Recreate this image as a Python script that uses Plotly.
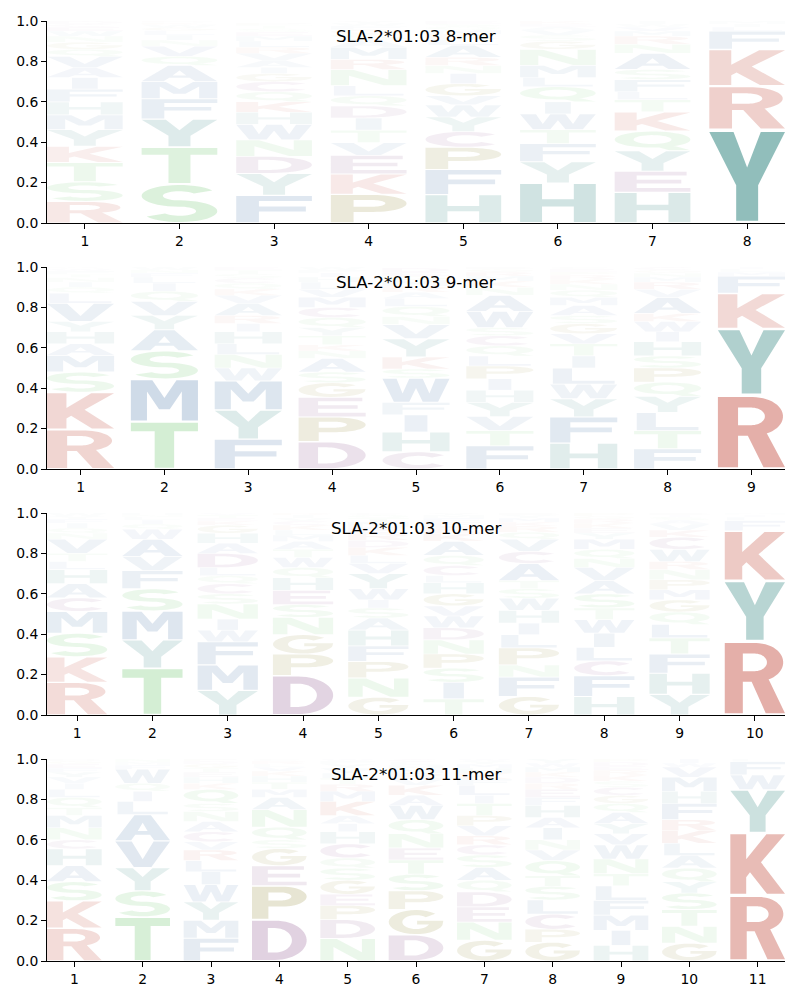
import numpy as np
import plotly.graph_objects as go
from plotly.subplots import make_subplots

# ---------------- data (letters listed bottom-up, heights = probability) -------------
titles = ["SLA-2*01:03 8-mer", "SLA-2*01:03 9-mer", "SLA-2*01:03 10-mer", "SLA-2*01:03 11-mer"]

mer8_letters = ["RSTKYMHFIAVQGNWECD", "STYFMAQVNILGWKR", "FYDNWHKQCGIAVRLMESTP",
                "PKEVTIDQLNRMASGFWY", "HFPCYWVGINRALKMQSE", "HYFTWIQLMNGSVAEK",
                "HEYQKTLFSANRMVWI", "YRKFLIM"]
mer8_heights = [
    [.107, .097, .096, .08, .082, .073, .065, .063, .057, .05, .055, .035, .035, .03, .025, .02, .015, .015],
    [.193, .183, .139, .1, .085, .08, .045, .05, .03, .025, .022, .016, .014, .01, .008],
    [.137, .108, .085, .082, .076, .06, .052, .05, .05, .04, .03, .035, .035, .03, .03, .025, .02, .017, .016, .012],
    [.142, .101, .092, .063, .062, .06, .06, .05, .05, .08, .05, .06, .035, .03, .023, .018, .014, .01],
    [.141, .124, .11, .078, .072, .06, .045, .06, .05, .04, .04, .06, .03, .025, .02, .017, .014, .014],
    [.198, .105, .09, .069, .078, .06, .075, .045, .06, .08, .04, .03, .025, .017, .014, .014],
    [.152, .104, .102, .097, .095, .06, .04, .06, .05, .08, .045, .04, .025, .02, .015, .015],
    [.462, .216, .182, .09, .02, .015, .015],
]

mer9_letters = ["RKSMAHYVLQINTFWG", "TMSAYVQILFNW", "FYMWNLHIRAVKQCSTE",
                "DPEGSANKTYQCMVLHIFW", "CHIFWSKYVNQLARMGED", "FTVYHIPLQCSWANKMRGE",
                "HFYWLITVGSAMQNKRPEC", "FTLYQPSHIWKAVRMNGC", "RYKFMLI"]
mer9_heights = [
    [.196, .184, .1, .083, .057, .06, .05, .09, .05, .03, .025, .022, .018, .015, .012, .008],
    [.235, .21, .14, .105, .07, .07, .05, .04, .03, .02, .015, .015],
    [.148, .144, .145, .063, .067, .053, .06, .04, .04, .06, .04, .03, .03, .025, .02, .02, .015],
    [.135, .123, .097, .072, .053, .067, .038, .03, .045, .04, .05, .05, .05, .04, .035, .025, .02, .015, .015],
    [.085, .098, .085, .062, .12, .045, .06, .09, .07, .04, .05, .04, .03, .03, .03, .02, .02, .02],
    [.115, .075, .07, .07, .06, .057, .063, .05, .05, .05, .04, .08, .08, .04, .03, .025, .02, .015, .01],
    [.128, .13, .09, .072, .08, .06, .06, .05, .05, .04, .05, .04, .035, .03, .025, .02, .015, .015, .01],
    [.1, .09, .09, .08, .07, .07, .06, .07, .05, .05, .04, .08, .04, .035, .025, .02, .015, .015],
    [.365, .33, .175, .085, .02, .015, .01],
]

mer10_letters = ["RKSMCAHLTVNQIFYW", "TYMSFVAWQILNH", "YMFWINSCQLDAHGKETV",
                 "DPGNSEHQWTAMLKCVIR", "GNPFHASIWYVLKDREMTQC", "TISPNDWVGHLCQAKREFMY",
                 "GFNPLIHWSTACVQRKMYE", "HFCLIWTSAVNQMYEKRGP", "YHFTLQGMPNRWCKVASIE",
                 "RYKFLIM"]
mer10_heights = [
    [.162, .126, .117, .108, .067, .07, .07, .04, .04, .07, .03, .025, .025, .02, .015, .015],
    [.232, .14, .143, .11, .09, .07, .085, .05, .025, .02, .015, .01, .01],
    [.122, .126, .115, .057, .055, .075, .05, .05, .04, .04, .07, .05, .05, .04, .02, .015, .015, .01],
    [.195, .107, .096, .085, .064, .07, .063, .05, .05, .04, .04, .03, .025, .025, .02, .015, .015, .01],
    [.088, .095, .082, .077, .078, .06, .05, .04, .055, .075, .05, .04, .04, .035, .035, .03, .025, .02, .015, .01],
    [.08, .082, .07, .07, .07, .06, .058, .05, .06, .055, .035, .05, .05, .07, .04, .03, .025, .02, .015, .01],
    [.092, .096, .06, .085, .065, .057, .063, .06, .047, .04, .085, .06, .06, .035, .03, .02, .02, .015, .01],
    [.092, .103, .073, .067, .07, .067, .058, .07, .065, .065, .045, .045, .05, .03, .025, .025, .02, .015, .015],
    [.102, .105, .095, .08, .066, .062, .06, .05, .05, .05, .04, .06, .06, .035, .03, .02, .015, .01, .01],
    [.365, .3, .247, .05, .018, .012, .008],
]

mer11_letters = ["RKSAHCNMTQLIVYFEGD", "TSYVALIQWFMN", "FMYWILRVCANSQKHETGDP",
                 "DPEGSQNAMTHKVLRC", "NDPEGSQCHIAKMRTLVYFW", "DGPSTENQWAKVRMHLC",
                 "GNEDQASCRVPTILFKHMYW", "GPCLSTQVNIAHFERDKMWY", "HIMFLTNWVYAQGCSKREDP",
                 "GNTSYQALKRFHMVWI", "RKYWFL"]
mer11_heights = [
    [.162, .136, .095, .079, .083, .045, .06, .06, .04, .05, .04, .03, .03, .025, .02, .02, .015, .01],
    [.218, .13, .114, .133, .13, .065, .05, .04, .07, .02, .015, .015],
    [.113, .089, .091, .085, .064, .055, .053, .04, .05, .05, .05, .04, .07, .03, .03, .025, .02, .02, .015, .01],
    [.205, .167, .1, .085, .043, .063, .087, .06, .04, .035, .03, .025, .02, .015, .015, .01],
    [.112, .093, .07, .055, .07, .06, .05, .07, .06, .04, .04, .07, .05, .035, .03, .025, .025, .02, .015, .01],
    [.13, .125, .093, .082, .07, .06, .07, .07, .07, .05, .05, .03, .03, .02, .02, .015, .015],
    [.103, .09, .075, .074, .058, .063, .062, .05, .045, .05, .05, .06, .04, .05, .03, .03, .025, .02, .015, .01],
    [.093, .064, .075, .07, .068, .052, .075, .053, .05, .06, .05, .06, .04, .04, .03, .03, .025, .025, .02, .02],
    [.077, .075, .075, .073, .072, .06, .073, .07, .055, .05, .055, .045, .04, .04, .03, .03, .025, .02, .02, .015],
    [.088, .084, .083, .082, .055, .068, .062, .061, .062, .055, .08, .06, .07, .05, .02, .02],
    [.325, .31, .213, .074, .065, .013],
]

panels = [(mer8_letters, mer8_heights), (mer9_letters, mer9_heights),
          (mer10_letters, mer10_heights), (mer11_letters, mer11_heights)]

# ---------------- styling ----------------
group_rgb = {
    "red": (187, 58, 42), "teal": (39, 127, 121), "green": (88, 190, 88),
    "blue": (46, 98, 155), "purple": (122, 55, 122), "olive": (127, 116, 16),
}
aa_group = {}
for a in "RK": aa_group[a] = "red"
for a in "YH": aa_group[a] = "teal"
for a in "STNQ": aa_group[a] = "green"
for a in "AVLIMFW": aa_group[a] = "blue"
for a in "DEC": aa_group[a] = "purple"
for a in "PG": aa_group[a] = "olive"


def letter_color(a, h):
    r, g, b = group_rgb[aa_group[a]]
    alpha = min(0.6, 1.1 * h)
    return f"rgba({r},{g},{b},{alpha:.3f})"


# ---------------- glyph outlines in a unit box ----------------
def arc(cx, cy, rx, ry, a0, a1, n=28):
    t = np.radians(np.linspace(a0, a1, n))
    return list(zip(cx + rx * np.cos(t), cy + ry * np.sin(t)))


def glyph(a):
    if a == "A":
        return [([(0, 0), (0.35, 1), (0.65, 1), (1, 0), (0.71, 0), (0.635, 0.22), (0.365, 0.22), (0.29, 0)], False),
                ([(0.41, 0.37), (0.5, 0.7), (0.59, 0.37)], True)]
    if a == "C":
        return [(arc(0.52, 0.5, 0.52, 0.5, 40, 320) + arc(0.54, 0.5, 0.26, 0.28, 320, 40), False)]
    if a == "D":
        return [([(0, 0), (0, 1), (0.42, 1)] + arc(0.42, 0.5, 0.58, 0.5, 90, -90), False),
                ([(0.29, 0.19), (0.29, 0.81), (0.42, 0.81)] + arc(0.42, 0.5, 0.31, 0.31, 90, -90), True)]
    if a == "E":
        return [([(0, 0), (0, 1), (0.95, 1), (0.95, 0.81), (0.29, 0.81), (0.29, 0.6), (0.88, 0.6),
                  (0.88, 0.41), (0.29, 0.41), (0.29, 0.19), (1, 0.19), (1, 0)], False)]
    if a == "F":
        return [([(0, 0), (0, 1), (1, 1), (1, 0.81), (0.3, 0.81), (0.3, 0.6), (0.92, 0.6),
                  (0.92, 0.41), (0.3, 0.41), (0.3, 0)], False)]
    if a == "G":
        return [(arc(0.5, 0.5, 0.5, 0.5, 45, 345) + [(1.0, 0.56), (0.52, 0.56), (0.52, 0.40), (0.74, 0.40)]
                 + arc(0.5, 0.5, 0.25, 0.29, -25, -315), False)]
    if a == "H":
        return [([(0, 0), (0, 1), (0.29, 1), (0.29, 0.6), (0.71, 0.6), (0.71, 1), (1, 1), (1, 0),
                  (0.71, 0), (0.71, 0.41), (0.29, 0.41), (0.29, 0)], False)]
    if a == "I":
        return [([(0, 0), (0, 1), (1, 1), (1, 0)], False)]
    if a == "K":
        return [([(0, 0), (0, 1), (0.29, 1), (0.29, 0.58), (0.66, 1), (1, 1), (0.56, 0.53), (1, 0),
                  (0.67, 0), (0.36, 0.36), (0.29, 0.28), (0.29, 0)], False)]
    if a == "L":
        return [([(0, 0), (0, 1), (0.31, 1), (0.31, 0.19), (1, 0.19), (1, 0)], False)]
    if a == "M":
        return [([(0, 0), (0, 1), (0.32, 1), (0.5, 0.56), (0.68, 1), (1, 1), (1, 0), (0.76, 0),
                  (0.76, 0.72), (0.58, 0.28), (0.42, 0.28), (0.24, 0.72), (0.24, 0)], False)]
    if a == "N":
        return [([(0, 0), (0, 1), (0.3, 1), (0.76, 0.38), (0.76, 1), (1, 1), (1, 0), (0.7, 0),
                  (0.24, 0.62), (0.24, 0)], False)]
    if a == "P":
        return [([(0, 0), (0, 1), (0.56, 1)] + arc(0.56, 0.69, 0.44, 0.31, 90, -90) + [(0.3, 0.38), (0.3, 0)], False),
                ([(0.3, 0.57), (0.3, 0.82), (0.53, 0.82)] + arc(0.53, 0.695, 0.19, 0.125, 90, -90), True)]
    if a == "Q":
        return [(arc(0.5, 0.57, 0.5, 0.43, 0, 360, 48), False),
                (arc(0.5, 0.57, 0.25, 0.24, 0, 360, 40), True),
                ([(0.52, 0.22), (0.72, 0.0), (1.0, 0.0), (0.78, 0.24)], False)]
    if a == "R":
        return [([(0, 0), (0, 1), (0.52, 1)] + arc(0.52, 0.725, 0.45, 0.275, 90, -90) + [(0.3, 0.45), (0.3, 0)], False),
                ([(0.42, 0.5), (0.72, 0.5), (1, 0), (0.68, 0)], False),
                ([(0.3, 0.6), (0.3, 0.85), (0.5, 0.85)] + arc(0.5, 0.725, 0.2, 0.125, 90, -90), True)]
    if a == "S":
        c1, c2, R, r = 0.7075, 0.2925, 0.2925, 0.1225
        pts = (arc(0.5, c1, 0.5, R, 30, 270) + arc(0.5, c2, 0.22, r, 90, -150)
               + arc(0.5, c2, 0.5, R, -150, 90) + arc(0.5, c1, 0.22, r, 270, 30))
        return [(pts, False)]
    if a == "T":
        return [([(0, 1), (1, 1), (1, 0.81), (0.645, 0.81), (0.645, 0), (0.355, 0), (0.355, 0.81), (0, 0.81)], False)]
    if a == "V":
        return [([(0, 1), (0.3, 1), (0.5, 0.3), (0.7, 1), (1, 1), (0.66, 0), (0.34, 0)], False)]
    if a == "W":
        return [([(0, 1), (0.21, 1), (0.3, 0.36), (0.4, 1), (0.6, 1), (0.7, 0.36), (0.79, 1), (1, 1),
                  (0.83, 0), (0.6, 0), (0.5, 0.6), (0.4, 0), (0.17, 0)], False)]
    if a == "Y":
        return [([(0, 1), (0.32, 1), (0.5, 0.6), (0.68, 1), (1, 1), (0.645, 0.4), (0.645, 0),
                  (0.355, 0), (0.355, 0.4)], False)]
    raise ValueError(a)


def signed_area(pts):
    p = np.asarray(pts, float)
    x, y = p[:, 0], p[:, 1]
    return 0.5 * np.sum(x * np.roll(y, -1) - np.roll(x, -1) * y)


GLYPHS = {}
for a in "ACDEFGHIKLMNPQRSTVWY":
    polys = []
    for pts, hole in glyph(a):
        s = signed_area(pts)
        if (s > 0) == hole:
            pts = pts[::-1]
        polys.append(np.asarray(pts, float))
    GLYPHS[a] = polys

width_frac = {"I": 0.34, "L": 0.92}
GLYPH_W = 0.8
VPAD = 0.05


def glyph_path(a, xc, y0, h):
    wf = width_frac.get(a, 1.0) * GLYPH_W
    x0 = xc - wf / 2
    yb = y0 + h * VPAD / 2
    hh = h * (1 - VPAD)
    parts = []
    for poly in GLYPHS[a]:
        X = x0 + wf * poly[:, 0]
        Y = yb + hh * poly[:, 1]
        seg = "M" + "L".join(f"{x:.4f},{y:.5f}" for x, y in zip(X, Y)) + "Z"
        parts.append(seg)
    return "".join(parts)


# ---------------- figure ----------------
fig = make_subplots(rows=4, cols=1, vertical_spacing=44 / 940)
shapes = []
annotations = []
for i, (letters, heights) in enumerate(panels):
    n = len(letters)
    sfx = "" if i == 0 else str(i + 1)
    xref, yref = "x" + sfx, "y" + sfx
    for j, (col, hs) in enumerate(zip(letters, heights)):
        pos = j + 1
        y0 = 0.0
        for a, h in zip(col, hs):
            shapes.append(dict(type="path", path=glyph_path(a, pos, y0, h), xref=xref, yref=yref,
                               fillcolor=letter_color(a, h), line=dict(width=0), fillrule="nonzero",
                               layer="above"))
            y0 += h
    fig.update_xaxes(range=[0.6, n + 0.4], tickvals=list(range(1, n + 1)), row=i + 1, col=1)
    annotations.append(dict(text=titles[i], xref=xref + " domain", yref=yref + " domain",
                            x=0.5, y=0.926, xanchor="center", yanchor="middle", showarrow=False,
                            font=dict(size=16.7, color="black", family="DejaVu Sans")))

fig.update_xaxes(showline=True, linecolor="black", linewidth=1, ticks="outside", ticklen=5,
                 tickwidth=1, tickcolor="black", showgrid=False, zeroline=False, mirror=False,
                 tickfont=dict(size=13.9, color="black", family="DejaVu Sans"))
fig.update_yaxes(range=[0, 1], tickvals=[0, 0.2, 0.4, 0.6, 0.8, 1.0], tickformat=".1f",
                 showline=True, linecolor="black", linewidth=1, ticks="outside", ticklen=5,
                 tickwidth=1, tickcolor="black", showgrid=False, zeroline=False, mirror=False,
                 tickfont=dict(size=13.9, color="black", family="DejaVu Sans"))

fig.update_layout(width=800, height=1000, margin=dict(l=47, r=15, t=21, b=39),
                  paper_bgcolor="white", plot_bgcolor="white", showlegend=False,
                  shapes=shapes, annotations=annotations,
                  font=dict(family="DejaVu Sans", color="black"))

fig.write_html("out.html", config={"displayModeBar": False},
               post_script="document.body.style.margin='0';")
